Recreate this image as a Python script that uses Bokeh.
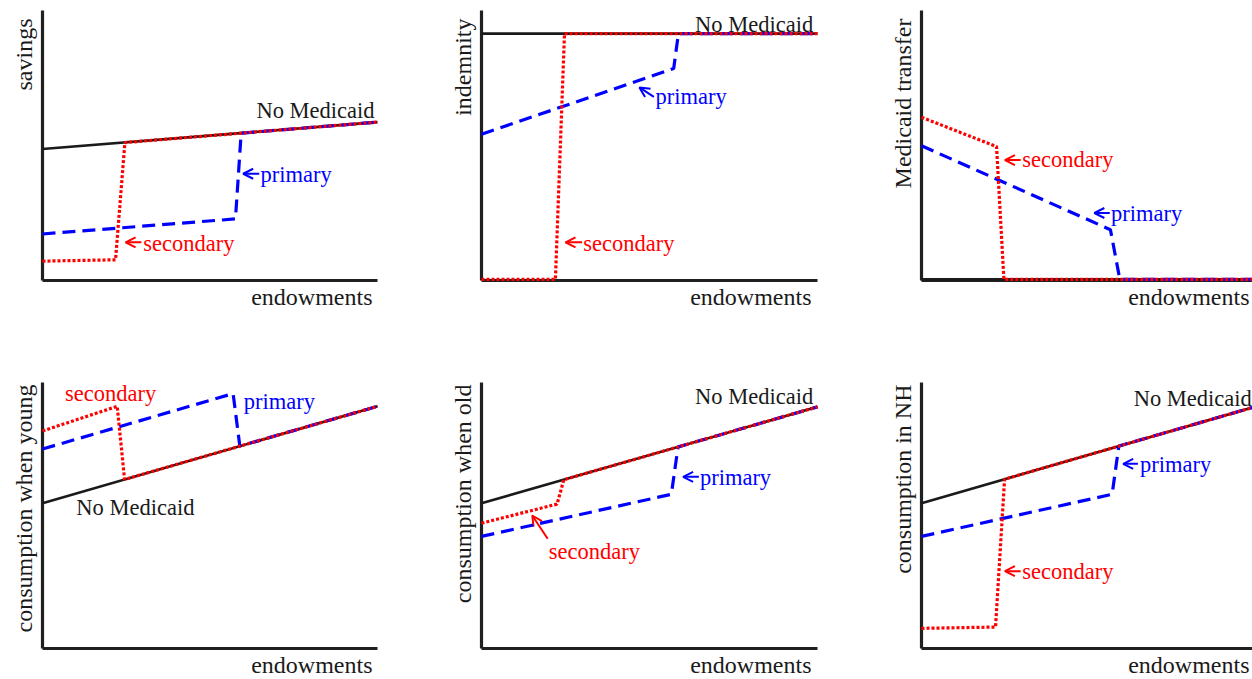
import math
from bokeh.plotting import figure
from bokeh.layouts import column, row
from bokeh.models import Range1d, Label, Arrow, OpenHead, FixedTicker, Title
from bokeh.embed import file_html
from bokeh.resources import INLINE

FONT = "Liberation Serif"
BLACK = "#1a1a1a"
BLUE = "#0000ff"
RED = "#ff0000"

# ---------------- data (x: endowments, y: normalized outcome) ----------------
savings_none_x = [0.0, 1.0]
savings_none_y = [0.485, 0.585]
savings_sec_x = [0.0, 0.218, 0.246, 1.0]
savings_sec_y = [0.068, 0.073, 0.509, 0.585]
savings_pri_x = [0.0, 0.576, 0.593, 1.0]
savings_pri_y = [0.169, 0.225, 0.544, 0.585]

indem_none_x = [0.0, 1.0]
indem_none_y = [0.914, 0.914]
indem_sec_x = [0.0, 0.220, 0.247, 1.0]
indem_sec_y = [0.0, 0.0, 0.914, 0.914]
indem_pri_x = [0.0, 0.572, 0.586, 1.0]
indem_pri_y = [0.540, 0.784, 0.914, 0.914]

transfer_none_x = [0.0, 1.0]
transfer_none_y = [0.0, 0.0]
transfer_sec_x = [0.0, 0.224, 0.246, 1.0]
transfer_sec_y = [0.603, 0.494, 0.0, 0.0]
transfer_pri_x = [0.0, 0.564, 0.592, 1.0]
transfer_pri_y = [0.497, 0.185, 0.0, 0.0]

young_none_x = [0.0, 1.0]
young_none_y = [0.544, 0.910]
young_sec_x = [0.0, 0.223, 0.245, 1.0]
young_sec_y = [0.817, 0.910, 0.634, 0.910]
young_pri_x = [0.0, 0.569, 0.589, 1.0]
young_pri_y = [0.749, 0.958, 0.760, 0.910]

old_none_x = [0.0, 1.0]
old_none_y = [0.544, 0.908]
old_sec_x = [0.0, 0.225, 0.245, 1.0]
old_sec_y = [0.469, 0.541, 0.633, 0.908]
old_pri_x = [0.0, 0.565, 0.585, 1.0]
old_pri_y = [0.419, 0.578, 0.757, 0.908]

nh_none_x = [0.0, 1.0]
nh_none_y = [0.544, 0.910]
nh_sec_x = [0.0, 0.221, 0.248, 1.0]
nh_sec_y = [0.072, 0.077, 0.635, 0.910]
nh_pri_x = [0.0, 0.569, 0.589, 1.0]
nh_pri_y = [0.419, 0.578, 0.760, 0.910]

y_labels = ["savings", "indemnity", "Medicaid transfer",
            "consumption when young", "consumption when old", "consumption in NH"]
x_label = "endowments"
none_label = "No Medicaid"
pri_label = "primary"
sec_label = "secondary"

ANN = "22.5px"
AXF = "24px"
LIFT = 5  # px


def make_panel(width, height, bl, br, bt, bb, xend, ylab, xoff, yoff):
    p = figure(width=width, height=height,
               x_range=Range1d(0, xend), y_range=Range1d(-0.004, 1),
               output_backend="svg", toolbar_location=None,
               min_border_left=bl, min_border_right=br,
               min_border_top=bt, min_border_bottom=bb)
    p.outline_line_color = None
    p.grid.visible = False
    p.background_fill_color = "white"
    p.border_fill_color = "white"
    for ax in p.axis:
        ax.ticker = FixedTicker(ticks=[])
        ax.major_tick_line_color = None
        ax.minor_tick_line_color = None
        ax.major_label_text_font_size = "0px"
        ax.major_label_standoff = 0
        ax.major_tick_out = 0
        ax.axis_line_width = 3.2
        ax.axis_line_color = "#202020"
    p.add_layout(Title(text=ylab, align="right", text_font=FONT, text_font_size=AXF,
                       text_font_style="normal", text_color=BLACK,
                       standoff=11, offset=yoff), "left")
    p.add_layout(Title(text=x_label, align="right", text_font=FONT, text_font_size=AXF,
                       text_font_style="normal", text_color=BLACK,
                       standoff=3, offset=xoff), "below")
    return p


def curves(p, nx, ny, px, py, sx, sy):
    r1 = p.line(nx, ny, line_color=BLACK, line_width=2.6)
    r2 = p.line(px, py, line_color=BLUE, line_width=3.2, line_dash="13 7")
    r3 = p.line(sx, sy, line_color=RED, line_width=3.2, line_dash="3 2")
    for r in (r1, r2, r3):
        r.level = "overlay"


def txt(p, x, y, text, color, h, align="left", size=ANN):
    p.add_layout(Label(x=x, y=y + LIFT / h, text=text, text_font=FONT, text_font_size=size,
                       text_color=color, text_align=align, text_baseline="alphabetic"))


def arrow(p, x0, y0, x1, y1, color):
    p.add_layout(Arrow(end=OpenHead(size=10, line_width=2, line_color=color),
                       x_start=x0, y_start=y0, x_end=x1, y_end=y1,
                       line_color=color, line_width=2))


TOP_H = 270
BOT_H = 268

# ---------------- top row ----------------
p1 = make_panel(440, 372, 42, 63, 10, 92, 1.0, y_labels[0], 5, 8)
curves(p1, savings_none_x, savings_none_y, savings_pri_x, savings_pri_y, savings_sec_x, savings_sec_y)
txt(p1, 0.991, 0.611, none_label, BLACK, TOP_H, align="right")
arrow(p1, 0.647, 0.393, 0.599, 0.393, BLUE)
txt(p1, 0.651, 0.370, pri_label, BLUE, TOP_H)
arrow(p1, 0.295, 0.138, 0.248, 0.138, RED)
txt(p1, 0.301, 0.114, sec_label, RED, TOP_H)

p2 = make_panel(440, 372, 41, 63, 10, 92, 1.0, y_labels[1], 6, 8)
curves(p2, indem_none_x, indem_none_y, indem_pri_x, indem_pri_y, indem_sec_x, indem_sec_y)
txt(p2, 0.987, 0.928, none_label, BLACK, TOP_H, align="right")
arrow(p2, 0.513, 0.679, 0.470, 0.714, BLUE)
txt(p2, 0.518, 0.660, pri_label, BLUE, TOP_H)
arrow(p2, 0.2996, 0.138, 0.250, 0.138, RED)
txt(p2, 0.3027, 0.114, sec_label, RED, TOP_H)

p3 = make_panel(372, 372, 41, 0, 10, 92, 331 / 335, y_labels[2], 3, 8)
curves(p3, transfer_none_x, transfer_none_y, transfer_pri_x, transfer_pri_y, transfer_sec_x, transfer_sec_y)
arrow(p3, 0.296, 0.444, 0.249, 0.444, RED)
txt(p3, 0.301, 0.426, sec_label, RED, TOP_H)
arrow(p3, 0.562, 0.247, 0.516, 0.247, BLUE)
txt(p3, 0.566, 0.228, pri_label, BLUE, TOP_H)

# ---------------- bottom row ----------------
p4 = make_panel(440, 307, 42, 63, 10, 29, 1.0, y_labels[3], 5, 2)
curves(p4, young_none_x, young_none_y, young_pri_x, young_pri_y, young_sec_x, young_sec_y)
txt(p4, 0.067, 0.939, sec_label, RED, BOT_H)
txt(p4, 0.601, 0.908, pri_label, BLUE, BOT_H)
txt(p4, 0.101, 0.510, none_label, BLACK, BOT_H)

p5 = make_panel(440, 307, 41, 63, 10, 29, 1.0, y_labels[4], 6, 2)
curves(p5, old_none_x, old_none_y, old_pri_x, old_pri_y, old_sec_x, old_sec_y)
txt(p5, 0.987, 0.930, none_label, BLACK, BOT_H, align="right")
arrow(p5, 0.647, 0.644, 0.600, 0.644, BLUE)
txt(p5, 0.650, 0.622, pri_label, BLUE, BOT_H)
arrow(p5, 0.197, 0.410, 0.151, 0.498, RED)
txt(p5, 0.200, 0.342, sec_label, RED, BOT_H)

p6 = make_panel(372, 307, 41, 0, 10, 29, 331 / 335, y_labels[5], 3, 2)
curves(p6, nh_none_x, nh_none_y, nh_pri_x, nh_pri_y, nh_sec_x, nh_sec_y)
txt(p6, 0.986, 0.920, none_label, BLACK, BOT_H, align="right")
arrow(p6, 0.646, 0.693, 0.602, 0.693, BLUE)
txt(p6, 0.652, 0.672, pri_label, BLUE, BOT_H)
arrow(p6, 0.296, 0.288, 0.249, 0.288, RED)
txt(p6, 0.301, 0.268, sec_label, RED, BOT_H)

layout = column(row(p1, p2, p3), row(p4, p5, p6))
open("out.html", "w").write(file_html(layout, INLINE))
